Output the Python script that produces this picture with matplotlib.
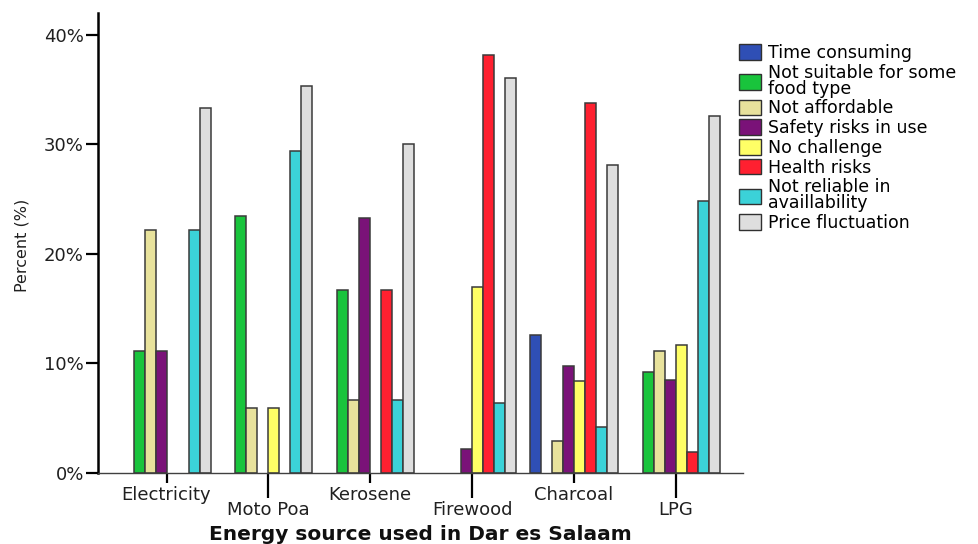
import numpy as np
import matplotlib.pyplot as plt
from matplotlib.patches import Patch

plt.rcParams['font.family'] = ['DejaVu Sans']

categories = ["Electricity", "Moto Poa", "Kerosene", "Firewood", "Charcoal", "LPG"]

series_names = ["Time consuming", "Not suitable for some\nfood type", "Not affordable",
                "Safety risks in use", "No challenge", "Health risks",
                "Not reliable in\navaillability", "Price fluctuation"]

time_consuming = [0, 0, 0, 0, 12.6, 0]
not_suitable = [11.1, 23.5, 16.7, 0, 0, 9.2]
not_affordable = [22.2, 5.9, 6.7, 0, 2.9, 11.1]
safety_risks = [11.1, 0, 23.3, 2.2, 9.8, 8.5]
no_challenge = [0, 5.9, 0, 17.0, 8.4, 11.7]
health_risks = [0, 0, 16.7, 38.2, 33.8, 1.9]
not_reliable = [22.2, 29.4, 6.7, 6.4, 4.2, 24.8]
price_fluctuation = [33.3, 35.3, 30.0, 36.1, 28.1, 32.6]

series = [time_consuming, not_suitable, not_affordable, safety_risks,
          no_challenge, health_risks, not_reliable, price_fluctuation]
colors = ["#2f4fb5", "#19c43c", "#e8e29c", "#7a1278", "#ffff66",
          "#ff2030", "#3bd2d8", "#dedede"]

fig = plt.figure(figsize=(9.79, 5.44), dpi=100)
ax = fig.add_axes([98 / 979, 71 / 544, 645 / 979, 460 / 544])

x = np.arange(len(categories))
w = 0.108
for i, (vals, c) in enumerate(zip(series, colors)):
    vals = np.array(vals, dtype=float)
    pos = x - 4 * w + (i + 0.5) * w
    keep = vals > 0
    ax.bar(pos[keep], vals[keep], width=w, color=c, edgecolor="#3a3a3a", linewidth=1.1)

ax.set_xlim(-0.673, 5.66)
ax.set_ylim(0, 42)

ax.set_yticks([0, 10, 20, 30, 40])
ax.set_yticklabels(["0%", "10%", "20%", "30%", "40%"])
ax.tick_params(axis='y', length=8.6, width=1.6, pad=1.5, labelsize=13, labelcolor="#202020")

# staggered category labels: even ones on major ticks, odd ones on longer minor ticks
ax.set_xticks(x[0::2], labels=categories[0::2])
ax.set_xticks(x[1::2], labels=categories[1::2], minor=True)
ax.tick_params(axis='x', which='major', length=7.2, width=1.6, labelsize=13,
               labelcolor="#202020", pad=2)
ax.tick_params(axis='x', which='minor', length=18, width=1.6, labelsize=13,
               labelcolor="#202020", pad=2)

for s in ["top", "right"]:
    ax.spines[s].set_visible(False)
ax.spines["left"].set_linewidth(1.8)
ax.spines["bottom"].set_linewidth(1.0)
ax.spines["bottom"].set_color("#404040")

fig.text(22 / 979, 1 - 245 / 544, "Percent (%)", rotation=90, ha="center", va="center",
         fontsize=11.5, color="#202020")
fig.text(420 / 979, 1 - 535 / 544, "Energy source used in Dar es Salaam", ha="center",
         va="center", fontsize=14.5, fontweight="bold", color="#101010")

handles = [Patch(facecolor=c, edgecolor="#303030", linewidth=1) for c in colors]
leg = fig.legend(handles, series_names, loc="upper left",
                 bbox_to_anchor=(739 / 979, 1 - 44 / 544), frameon=False,
                 fontsize=12.5, handlelength=1.25, handleheight=1.0, handletextpad=0.4,
                 labelspacing=0.1, borderpad=0, borderaxespad=0)
for t in leg.get_texts():
    t.set_linespacing(0.85)

fig.savefig("out.png", dpi=100)
